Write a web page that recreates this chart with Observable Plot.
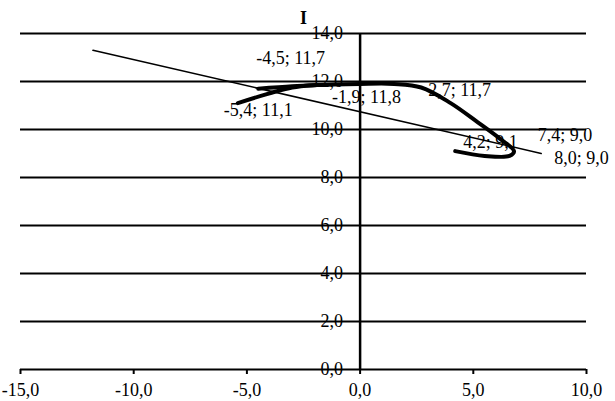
<!DOCTYPE html>
<html>
<head>
<meta charset="utf-8">
<script src="https://cdn.jsdelivr.net/npm/d3@7"></script>
<script src="https://cdn.jsdelivr.net/npm/@observablehq/plot@0.6"></script>
<style>
  html, body { margin: 0; padding: 0; background: #fff; }
</style>
</head>
<body>
<div id="chart"></div>
<script>
// ---- data ----
const xTicks = [-15, -10, -5, 0, 5, 10];
const yTicks = [0, 2, 4, 6, 8, 10, 12, 14];
const title = "I";

// thick curve (main branch)
const mainX = [-5.4, -3.0, -1.9, 0.0, 1.5, 2.7, 4.0, 5.2, 6.2, 6.8, 6.6, 5.5, 4.2];
const mainY = [11.1, 11.75, 11.85, 11.9, 11.9, 11.75, 11.1, 10.3, 9.6, 9.1, 8.9, 8.9, 9.1];
// thick curve, upper short branch
const branchX = [-4.5, -3.0, -1.9];
const branchY = [11.7, 11.8, 11.85];
// thin straight line
const thinX = [-11.8, 8.0];
const thinY = [13.3, 9.0];
// labelled points
const labelX = [-4.5, -5.4, -1.9, 2.7, 4.2, 7.4, 8.0];
const labelY = [11.7, 11.1, 11.8, 11.7, 9.1, 9.0, 9.0];

// ---- build ----
const fmt = d => d.toFixed(1).replace(".", ",");
const curve = [
  ...mainX.map((x, i) => ({x, y: mainY[i], g: "main"})),
  ...branchX.map((x, i) => ({x, y: branchY[i], g: "branch"}))
];
const thin = thinX.map((x, i) => ({x, y: thinY[i]}));
const labelOffsets = [[-2, -30], [-14, 7], [15, 11], [7, 2], [8, -9], [10, -18], [13, 5]];
const labels = labelX.map((x, i) => ({
  x, y: labelY[i],
  text: fmt(x) + "; " + fmt(labelY[i]),
  dx: labelOffsets[i][0], dy: labelOffsets[i][1]
}));

const marks = [
  Plot.ruleY(yTicks, {stroke: "black", strokeWidth: 2}),
  Plot.ruleX([0], {y1: 0, y2: 14, stroke: "black", strokeWidth: 2.5}),
  Plot.axisX({ticks: xTicks, tickFormat: fmt, tickSize: 5, tickPadding: 9, strokeWidth: 2, label: null, fontSize: 18}),
  Plot.text(yTicks, {x: 0, y: d => d, text: fmt, textAnchor: "end", dx: -17, fontSize: 18}),
  Plot.line(thin, {x: "x", y: "y", stroke: "black", strokeWidth: 1.5}),
  Plot.line(curve, {x: "x", y: "y", z: "g", curve: "catmull-rom", stroke: "black", strokeWidth: 4}),
  Plot.text([title], {frameAnchor: "top", dy: -22, fontSize: 18, fontWeight: "bold"})
];
for (const l of labels) {
  marks.push(Plot.text([l], {x: "x", y: "y", text: "text", textAnchor: "start", dx: l.dx, dy: l.dy, fontSize: 18}));
}

const chart = Plot.plot({
  width: 615,
  height: 401,
  marginLeft: 20,
  marginRight: 29,
  marginTop: 33,
  marginBottom: 32,
  x: {domain: [-15, 10], axis: null},
  y: {domain: [0, 14], axis: null},
  style: {fontFamily: "'Liberation Serif', serif", fontSize: "18px", background: "white", color: "black"},
  marks
});
document.getElementById("chart").appendChild(chart);
</script>
</body>
</html>
